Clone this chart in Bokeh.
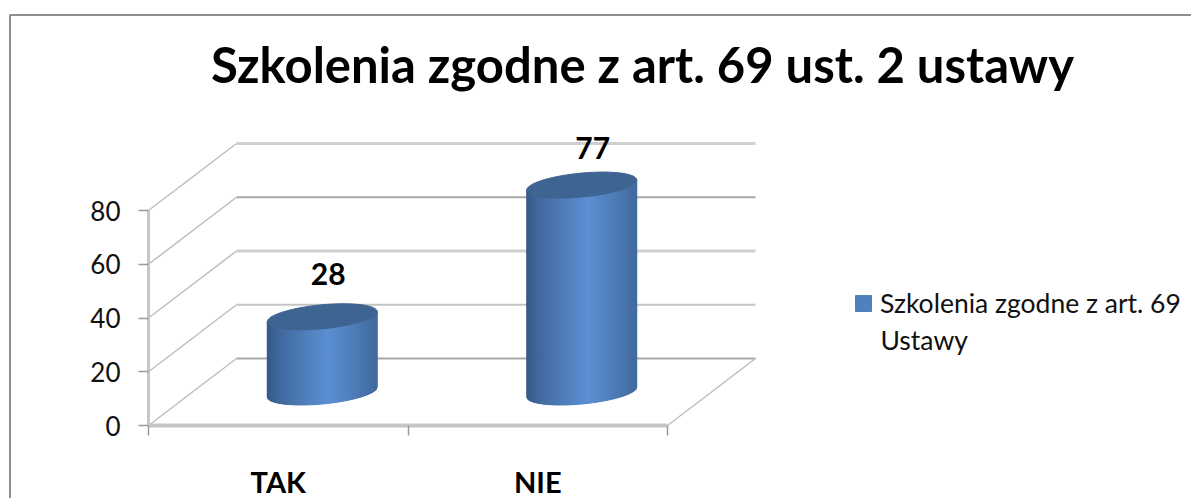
import numpy as np
from bokeh.plotting import figure
from bokeh.models import Range1d, FixedTicker, Label, Legend, LegendItem
from bokeh.embed import file_html
from bokeh.resources import INLINE

categories = ["TAK", "NIE"]
values = [28, 77]
y_ticks = [0, 20, 40, 60, 80]
title_text = "Szkolenia zgodne z art. 69 ust. 2 ustawy"
legend_lines = ["Szkolenia zgodne z art. 69", "Ustawy"]

FONT = "Lato"
W, H = 1191, 498
X0, Y0 = 148.0, 425.0      # pixels of category 0 / value 0
PX_CAT = 259.5             # pixels per category
PX_VAL = 2.6875            # pixels per value unit
DEPTH_X = 88 / PX_CAT      # oblique depth of the box
DEPTH_Y = 67 / PX_VAL
LABEL_DX = [6, 11]         # pixel nudges of the data labels
LABEL_DY = [43, 37]


def xd(px):
    return (px - X0) / PX_CAT


def yd(py):
    return (Y0 - py) / PX_VAL


p = figure(width=W, height=H, output_backend="svg", toolbar_location=None,
           x_range=Range1d(xd(0), xd(W)), y_range=Range1d(yd(H), yd(0)),
           min_border=0, background_fill_color="white",
           border_fill_color="white", outline_line_color=None)
p.xgrid.visible = False
p.ygrid.visible = False

# chart frame: left and top edges, the others run off the page
p.line([xd(9.5), xd(9.5), xd(W)], [yd(H), yd(14.5), yd(14.5)],
       line_color="#8e8e8e", line_width=2)

# axes placed inside the frame
ax = p.yaxis[0]
ax.fixed_location = 0
ax.ticker = FixedTicker(ticks=y_ticks)
ax.bounds = (y_ticks[0], y_ticks[-1])
ax.axis_line_color = "#c6c6c6"
ax.axis_line_width = 3
ax.major_tick_line_color = "#9a9a9a"
ax.major_tick_line_width = 1.5
ax.major_tick_out = 10
ax.major_tick_in = 0
ax.minor_tick_line_color = None
ax.major_label_standoff = 18
ax.major_label_text_font = FONT
ax.major_label_text_font_size = "26px"
ax.major_label_text_color = "#111111"

centres = [i + 0.5 for i in range(len(categories))]
bx = p.xaxis[0]
bx.fixed_location = 0
bx.ticker = FixedTicker(ticks=centres, minor_ticks=list(range(len(categories) + 1)))
bx.major_label_overrides = dict(zip(centres, categories))
bx.bounds = (0, len(categories))
bx.axis_line_color = "#c6c6c6"
bx.axis_line_width = 4
bx.major_tick_line_color = None
bx.major_tick_out = 0
bx.major_tick_in = 0
bx.minor_tick_line_color = "#9a9a9a"
bx.minor_tick_line_width = 1.5
bx.minor_tick_out = 10
bx.minor_tick_in = 0
bx.major_label_standoff = 28
bx.major_label_text_font = FONT
bx.major_label_text_font_style = "bold"
bx.major_label_text_font_size = "29px"
bx.major_label_text_color = "black"

# walls and floor
front_x = len(categories)
for i, v in enumerate(y_ticks):
    p.line([0, DEPTH_X], [v, v + DEPTH_Y], line_color="#bdbdbd", line_width=1.5)
    p.line([DEPTH_X, front_x + DEPTH_X], [v + DEPTH_Y] * 2,
           line_color="#cfcfcf" if (i in (2, 4)) else "#a8a8a8" if i in (0, 3) else "#c4c4c4",
           line_width=3 if i in (2, 4) else 1.8)
p.line([front_x, front_x + DEPTH_X], [0, DEPTH_Y], line_color="#bdbdbd", line_width=1.5)

# cylinders
HALF_W = 55 / PX_CAT
SHEAR = 5 / PX_VAL
RY = 12 / PX_VAL
base = DEPTH_Y / 2
N = 110
edge = np.array([0x33, 0x57, 0x84])
mid = np.array([0x5b, 0x8e, 0xd2])
xs_s, ys_s, cols = [], [], []
top_x, top_y = [], []
t = np.linspace(0, 2 * np.pi, 121)
for i, val in enumerate(values):
    cx = i + 0.5 + DEPTH_X / 2
    top = base + val
    us = np.linspace(-1, 1, N + 1)
    for u0, u1 in zip(us[:-1], us[1:]):
        um = (u0 + u1) / 2
        f = max(0.0, 1 - abs(um - 0.12) / 1.12) ** 0.75
        c = edge + (mid - edge) * f
        colour = "#%02x%02x%02x" % tuple(int(round(k)) for k in c)
        b0 = base + SHEAR * u0 - RY * np.sqrt(max(0, 1 - u0 * u0))
        b1 = base + SHEAR * u1 - RY * np.sqrt(max(0, 1 - u1 * u1))
        xs_s.append([cx + HALF_W * u0, cx + HALF_W * u1, cx + HALF_W * u1, cx + HALF_W * u0])
        ys_s.append([b0, b1, top + SHEAR * u1, top + SHEAR * u0])
        cols.append(colour)
    top_x.append(list(cx + HALF_W * np.cos(t)))
    top_y.append(list(top + SHEAR * np.cos(t) + RY * np.sin(t)))

p.patches(xs_s, ys_s, fill_color=cols, line_color=cols, line_width=1)
p.patches(top_x, top_y, fill_color="#3e6491", line_color="#3e6491", line_width=1)

# data labels
for i, val in enumerate(values):
    p.add_layout(Label(x=i + 0.5 + DEPTH_X / 2 + LABEL_DX[i] / PX_CAT,
                       y=base + val + LABEL_DY[i] / PX_VAL,
                       text=str(val), text_font=FONT, text_font_style="bold",
                       text_font_size="30px", text_color="black",
                       text_align="center", text_baseline="middle"))

# title
p.add_layout(Label(x=xd(642), y=yd(63), text=title_text, text_font=FONT, text_font_style="bold",
                   text_font_size="49px", text_color="black",
                   text_align="center", text_baseline="middle"))

# legend
swatch = p.quad(left=[np.nan], right=[np.nan], bottom=[np.nan], top=[np.nan],
                fill_color="#4f81bd", line_color="#4f81bd")
leg = Legend(items=[LegendItem(label=legend_lines[0], renderers=[swatch])],
             location=(853, H - 319), orientation="vertical",
             background_fill_alpha=0, border_line_color=None, padding=0, margin=0,
             glyph_width=20, glyph_height=20, label_standoff=7,
             label_text_font=FONT, label_text_font_size="26.5px", label_text_color="#111111")
p.add_layout(leg, "center")
p.add_layout(Label(x=xd(880), y=yd(339), text=legend_lines[1], text_font=FONT,
                   text_font_size="26.5px", text_color="#111111",
                   text_align="left", text_baseline="middle"))

open("out.html", "w").write(file_html(p, INLINE))
